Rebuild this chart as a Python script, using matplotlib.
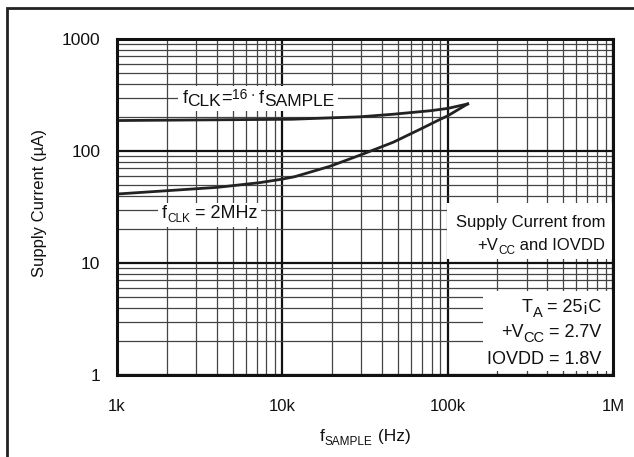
import matplotlib
matplotlib.use('Agg')
import matplotlib.pyplot as plt
import matplotlib.patches as patches
from matplotlib.ticker import LogLocator, FixedLocator, NullFormatter

plt.rcParams['font.family'] = ['Liberation Sans', 'DejaVu Sans']

# f_CLK = 16 * f_SAMPLE
fs_16 = [1e3, 1.14e4, 2.96e4, 4.7e4, 7.9e4, 1e5, 1.32e5]
i_16 = [187, 192, 202, 213, 229, 240, 263]

# f_CLK = 2MHz
fs_2m = [1e3, 2.05e3, 4.07e3, 7.25e3, 9.86e3, 1.19e4, 1.94e4, 2.96e4,
         3.92e4, 4.7e4, 6.85e4, 8.89e4, 1e5, 1.32e5]
i_2m = [41.3, 44.3, 47.4, 52.1, 55.9, 59, 73, 92,
        108, 120, 157, 190, 206, 263]

x_ticks = [1e3, 1e4, 1e5, 1e6]
x_labels = ['1k', '10k', '100k', '1M']
y_ticks = [1, 10, 100, 1000]
y_labels = ['1', '10', '100', '1000']

fig = plt.figure(figsize=(6.34, 4.57), dpi=100)
ax = fig.add_subplot(111)
plt.subplots_adjust(left=0.1845, right=0.967, top=0.9147, bottom=0.1794)
renderer = fig.canvas.get_renderer()


def rich(x, y, parts, ha='left', coords='data', bg=False):
    # parts: (string, fontsize, vertical shift in pixels)
    texts, widths = [], []
    for s, size, dy in parts:
        t = ax.annotate(s, (x, y), xycoords=coords, textcoords='offset pixels',
                        xytext=(0, dy), fontsize=size, va='baseline', ha='left',
                        color='#111111', zorder=4, annotation_clip=False)
        texts.append(t)
        widths.append(t.get_window_extent(renderer).width)
    total = sum(widths)
    off = {'left': 0, 'center': -total / 2, 'right': -total}[ha]
    for t, w, p in zip(texts, widths, parts):
        t.xyann = (off, p[2])
        off += w
    if bg:
        exts = [t.get_window_extent(renderer) for t in texts]
        x0 = min(e.x0 for e in exts) - 4
        x1 = max(e.x1 for e in exts) + 4
        y0 = min(e.y0 for e in exts) - 2
        y1 = max(e.y1 for e in exts) + 2
        (ax0, ay0), (ax1, ay1) = ax.transAxes.inverted().transform([(x0, y0), (x1, y1)])
        ax.add_patch(patches.Rectangle((ax0, ay0), ax1 - ax0, ay1 - ay0,
                                       transform=ax.transAxes, facecolor='white',
                                       edgecolor='none', zorder=2))


ax.set_xscale('log')
ax.set_yscale('log')
ax.set_xlim(1e3, 1e6)
ax.set_ylim(1, 1000)

ax.xaxis.set_major_locator(FixedLocator(x_ticks))
ax.yaxis.set_major_locator(FixedLocator(y_ticks))
ax.set_xticklabels(x_labels)
ax.set_yticklabels(y_labels)
ax.xaxis.set_minor_locator(LogLocator(base=10, subs=range(2, 10)))
ax.yaxis.set_minor_locator(LogLocator(base=10, subs=range(2, 10)))
ax.xaxis.set_minor_formatter(NullFormatter())
ax.yaxis.set_minor_formatter(NullFormatter())

ax.grid(True, which='major', color='#111111', linewidth=1.6)
ax.grid(True, which='minor', color='#444444', linewidth=0.9)
ax.set_axisbelow(True)

ax.tick_params(which='both', length=0, labelcolor='#111111')
ax.tick_params(axis='x', pad=17, labelsize=12)
ax.tick_params(axis='y', pad=12, labelsize=12.5)

for s in ax.spines.values():
    s.set_linewidth(2.2)
    s.set_color('#111111')
    s.set_zorder(5)

ax.plot(fs_16, i_16, color='#222222', linewidth=2, zorder=3)
ax.plot(fs_2m, i_2m, color='#222222', linewidth=2, zorder=3)

# curve labels
rich(2.49e3, 267, [('f', 13, 0), ('CLK', 12.5, -3), ('=', 13, 0),
                   ('16', 10, 4), (' · ', 10, 4), ('f', 13, 0), ('SAMPLE', 12.5, -3)],
     bg=True)
rich(1.87e3, 25, [('f', 13, 0), ('CLK', 8.5, -4), (' = 2MHz', 13, 0)], bg=True)

# white boxes behind the condition notes
ax.add_patch(patches.Rectangle((0.665, 0.345), 0.335, 0.167, transform=ax.transAxes,
                               facecolor='white', edgecolor='none', zorder=2))
ax.add_patch(patches.Rectangle((0.738, 0.012), 0.262, 0.238, transform=ax.transAxes,
                               facecolor='white', edgecolor='none', zorder=2))

rich(0.984, 0.441, [('Supply Current from', 12, 0)], ha='right', coords='axes fraction')
rich(0.984, 0.372, [('+V', 12, 0), ('CC', 8.5, -4), (' and IOVDD', 12, 0)],
     ha='right', coords='axes fraction')

rich(0.977, 0.188, [('T', 13, 0), ('A', 10.5, -5), (' = 25¡C', 13, 0)],
     ha='right', coords='axes fraction')
rich(0.977, 0.114, [('+V', 13, 0), ('CC', 10.5, -5), (' = 2.7V', 13, 0)],
     ha='right', coords='axes fraction')
rich(0.977, 0.033, [('IOVDD = 1.8V', 13, 0)], ha='right', coords='axes fraction')

# axis titles
fig.text(40 / 634, 1 - 203 / 457, 'Supply Current (µA)', rotation=90, fontsize=12,
         ha='center', va='center', color='#111111')
rich(0.576, 0.035, [('f', 12.5, 0), ('SAMPLE', 8.5, -4), (' (Hz)', 12.5, 0)],
     ha='center', coords='figure fraction')

# outer frame around the page
fig.patches.append(patches.Rectangle((7 / 634, -0.2), 2, 1.2 - 8 / 457, fill=False,
                                     edgecolor='#222222', linewidth=2,
                                     transform=fig.transFigure, figure=fig))

fig.savefig('out.png', dpi=100)
